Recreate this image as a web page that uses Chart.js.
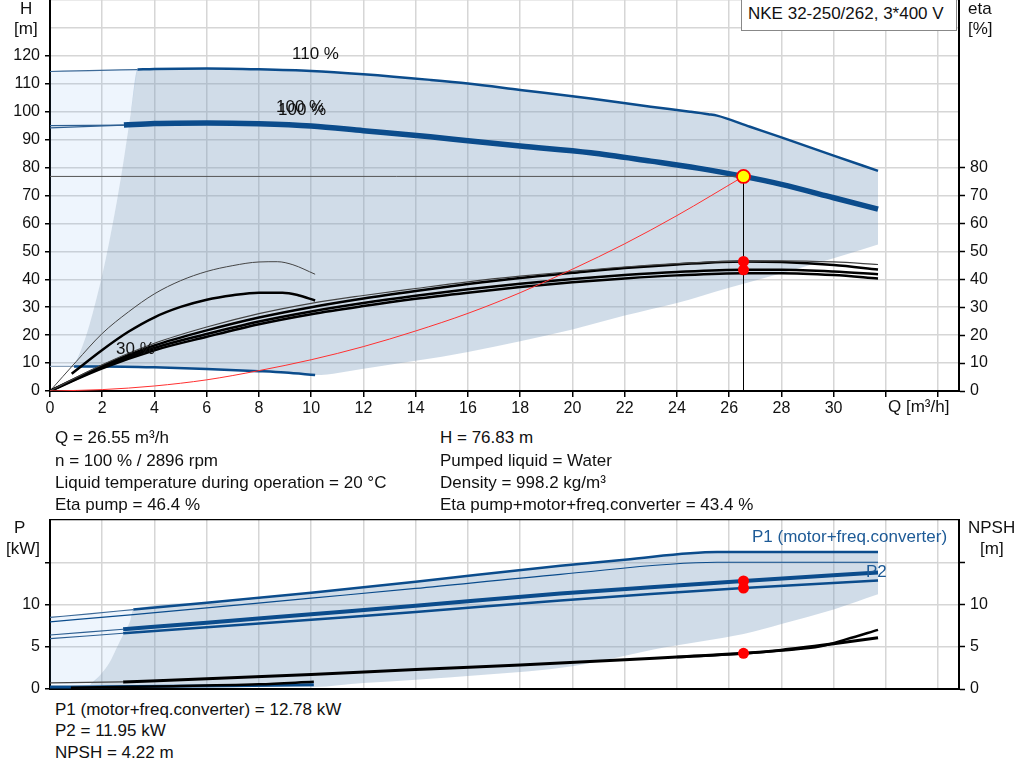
<!DOCTYPE html>
<html><head><meta charset="utf-8">
<script src="https://cdn.jsdelivr.net/npm/chart.js@4.4.1/dist/chart.umd.min.js"></script>
<style>
html,body{margin:0;padding:0;background:#fff;width:1024px;height:781px;overflow:hidden;font-family:'Liberation Sans',Arial,sans-serif;color:#111}
canvas{position:absolute;left:0}
.t{position:absolute;font-size:17px;line-height:20px;white-space:nowrap}
#box{position:absolute;left:741px;top:-1px;width:216px;height:32px;border:1px solid #888;box-sizing:border-box;background:#fff}
</style></head><body>
<canvas id="top" width="1024" height="420" style="top:0;width:1024px;height:420px"></canvas>
<canvas id="bot" width="1024" height="200" style="top:500px;width:1024px;height:200px"></canvas>
<div id="box"></div>
<div class="t" style="left:748px;top:4px">NKE 32-250/262, 3*400 V</div>
<div class="t" style="left:20px;top:-1px">H</div>
<div class="t" style="left:14px;top:19px">[m]</div>
<div class="t" style="left:968px;top:-1px">eta</div>
<div class="t" style="left:968px;top:19px">[%]</div>
<div class="t" style="left:888px;top:397px">Q [m³/h]</div>
<div class="t" style="left:292px;top:44px">110 %</div>
<div class="t" style="left:276px;top:97px">100 %</div>
<div class="t" style="left:278px;top:100px">100 %</div>
<div class="t" style="left:116px;top:339px">30 %</div>
<div class="t" style="left:55px;top:428px">Q = 26.55 m³/h</div>
<div class="t" style="left:55px;top:451px">n = 100 % / 2896 rpm</div>
<div class="t" style="left:55px;top:473px">Liquid temperature during operation = 20 °C</div>
<div class="t" style="left:55px;top:495px">Eta pump = 46.4 %</div>
<div class="t" style="left:440px;top:428px">H = 76.83 m</div>
<div class="t" style="left:440px;top:451px">Pumped liquid = Water</div>
<div class="t" style="left:440px;top:473px">Density = 998.2 kg/m³</div>
<div class="t" style="left:440px;top:495px">Eta pump+motor+freq.converter = 43.4 %</div>
<div class="t" style="left:14px;top:518px">P</div>
<div class="t" style="left:6px;top:539px">[kW]</div>
<div class="t" style="left:968px;top:518px">NPSH</div>
<div class="t" style="left:980px;top:539px">[m]</div>
<div class="t" style="left:752px;top:527px;color:#1d5a96">P1 (motor+freq.converter)</div>
<div class="t" style="left:866px;top:562px;color:#1d5a96">P2</div>
<div class="t" style="left:55px;top:700px">P1 (motor+freq.converter) = 12.78 kW</div>
<div class="t" style="left:55px;top:721px">P2 = 11.95 kW</div>
<div class="t" style="left:55px;top:743px">NPSH = 4.22 m</div>
<script>
// ---------- data: top chart (H [m] and eta [%] vs Q [m3/h]) ----------
const qMax = 34.8, qLabelMax = 30, qStep = 2;
const hMax = 140, hLabelMax = 120, etaLabelMax = 80, hStep = 10;
const dutyQ = 26.55, dutyH = 76.83;
const etaDuty = [[26.55,46.4],[26.55,43.4]];
const h110Main = [[3.35,115.1],[4,115.3],[6,115.5],[8,115.2],[10,114.6],[12,113.4],[14.56,111.4],[16,110.1],[18,107.8],[20.7,104.7],[23,101.8],[24.5,100.0],[25.2,99.1],[25.54,98.6],[26.8,94.6],[28,90.8],[30,84.3],[31.7,78.8]];
const h110Left = [[0,114.4],[1.5,114.7],[3.35,115.1]];
const h100Main = [[2.83,95.2],[4,95.8],[6,96],[8,95.7],[10,94.9],[12,93.2],[14.56,91],[16,89.6],[18,87.7],[20.7,85.3],[23,82.3],[24.8,79.8],[26.55,76.83],[28,74.0],[30,69.2],[31.7,65.1]];
const h100LeftA = [[0,95.0],[2.83,95.2]];
const h100LeftB = [[0,94.2],[2.83,95.2]];
const h30Main = [[0.92,8.8],[2,8.8],[4,8.5],[6,7.9],[8,7.1],[9,6.6],[10.15,5.7]];
const h30Left = [[0,8.8],[0.92,8.8]];
const minFlowEdge = [[0.92,8.8],[1.2,15],[1.5,23.4],[2,41.6],[2.3,55],[2.58,69],[2.81,82],[3.1,100],[3.35,115.1]];
const lowerEdge = [[10.15,5.7],[12,8],[14,10.8],[16,14],[18,17.8],[20,22],[22,27],[24,31.5],[26,37],[28,42.2],[30,47.5],[31.7,52.5]];
const systemCurve = [[0,0],[2,0.5],[4,1.8],[6,4.0],[8,7.3],[10,11.2],[12,15.9],[14,21.5],[16,27.8],[18,35.2],[20,43.6],[22,52.7],[24,62.8],[26.55,76.83]];
const eta1 = [[0,0],[2,9.4],[4,17.1],[6,22.9],[8,27.7],[10,31.4],[12,34.2],[14,36.7],[16,39.1],[18,41.1],[20,42.8],[22,44.4],[24,45.6],[26,46.4],[28,46.6],[30,46.2],[31.7,45.3]];
const eta2 = [[0,0],[2,9.0],[4,16.3],[6,21.7],[8,26.3],[10,30],[12,33.1],[14,35.8],[16,38.3],[18,40.5],[20,42.3],[22,44],[24,45.3],[26.55,46.4],[28,46.2],[30,45.1],[31.7,43.5]];
const eta3 = [[0,0],[2,8.5],[4,15.4],[6,20.4],[8,24.9],[10,28.5],[12,31.5],[14,34.1],[16,36.4],[18,38.4],[20,40.1],[22,41.5],[24,42.6],[26.55,43.4],[28,43.4],[30,42.8],[31.7,41.8]];
const eta4 = [[0,0],[2,8.1],[4,14.6],[6,19.4],[8,23.9],[10,27.5],[12,30.4],[14,33],[16,35.2],[18,37.2],[20,38.9],[22,40.3],[24,41.4],[26.55,42.2],[28,42.2],[30,41.5],[31.7,40.3]];
const etaThin = [[0,0],[1,10.5],[2,20.6],[3,28.3],[4,34.8],[5,39.5],[6,42.8],[7,44.9],[8,46.2],[8.7,46.3],[9.3,45.2],[10.15,41.8]];
const eta30 = [[0.83,6.2],[2,14.7],[3,21.2],[4,26.4],[5,30.1],[6,32.7],[7,34.3],[8,35.2],[8.9,35.2],[9.5,34.3],[10.15,32.4]];

// ---------- data: bottom chart (P [kW] and NPSH [m]) ----------
const pMax = 20, pLabelMax = 10, pStep = 5;
const bottomDuty = [[26.55,12.78],[26.55,11.95],[26.55,4.22]];
const pTopMain = [[3.19,9.4],[6,10.2],[10,11.4],[14,12.7],[19.54,14.58],[22,15.3],[25.54,16.2],[31.7,16.2]];
const pTopLeft = [[0,8.47],[1.5,8.9],[3.19,9.4]];
const pTopThin = [[0,7.95],[3.19,8.8],[10,10.75],[14,11.9],[19.54,13.57],[25.54,15.0],[31.7,15.0]];
const p1Main = [[2.8,7.07],[6,7.85],[10,8.85],[14,9.85],[19.54,11.29],[23,12.05],[26.55,12.78],[31.7,13.8]];
const p1Left = [[0,6.39],[2.8,7.07]];
const p2Main = [[2.8,6.6],[6,7.3],[10,8.2],[14,9.1],[19.54,10.48],[23,11.25],[26.55,11.95],[31.7,12.85]];
const p2Left = [[0,5.95],[2.8,6.6]];
const npshMain = [[2.8,0.84],[6,1.2],[10,1.72],[14,2.3],[18,2.85],[22,3.45],[24,3.8],[26.55,4.22],[28,4.6],[30,5.35],[31.7,6.07]];
const npshSteep = [[24,3.78],[26.55,4.2],[28,4.55],[29.5,5.05],[30.5,5.9],[31.7,7.0]];
const npshLeft = [[0,0.72],[2.8,0.84]];
const npsh30 = [[0.8,0.15],[4,0.3],[8,0.55],[10.1,0.85]];
const p30 = [[0,0.25],[0.8,0.25],[10.1,0.5]];
const pEdge = [[1.53,0.5],[1.92,1.65],[2.3,3.25],[2.55,4.86],[2.81,6.47],[3.07,8.07],[3.19,9.4]];
const pLowerEdge = [[1.53,0.5],[4,0.35],[8,0.27],[10.1,0.25],[12,0.7],[14,1.1],[16.5,1.65],[20,2.7],[23.5,4.9],[26.55,6.5],[28,7.7],[30,9.4],[31.7,11.2]];

// ---------- styling helpers ----------
const BLUE = '#0b4c8c', GREY_FILL = 'rgba(121,155,189,0.35)', LIGHT_FILL = 'rgba(85,155,235,0.10)';
const FONT = "'Liberation Sans', Arial, sans-serif";
const pts = a => a.map(([x,y]) => ({x,y}));
const line = (d, color, w, extra={}) => Object.assign({data: pts(d), borderColor: color, borderWidth: w, pointRadius: 0, fill: false, cubicInterpolationMode: 'monotone', showLine: true}, extra);
const area = (d, fillColor, target) => ({data: pts(d), borderWidth: 0, borderColor: 'rgba(0,0,0,0)', backgroundColor: fillColor, pointRadius: 0, cubicInterpolationMode: 'monotone', fill: target === undefined ? false : target});
const dots = (d, fill, border, r, bw, extra={}) => Object.assign({data: pts(d), showLine: false, pointRadius: r, pointBackgroundColor: fill, pointBorderColor: border, pointBorderWidth: bw}, extra);
const fixAxis = (w, h) => s => { if (w !== null) s.width = w; if (h !== null) s.height = h; s.paddingTop = 0; s.paddingBottom = 0; s.paddingLeft = 0; s.paddingRight = 0; };
const tickFont = {family: FONT, size: 16};
const GRID = '#d6d6d6';

Chart.defaults.animation = false;

// ---------- top chart ----------
const topSets = [
  dots([[dutyQ, dutyH]], '#ffff00', '#ff0000', 6.5, 1.8),
  dots(etaDuty, '#ff0000', '#ff0000', 5.5, 0, {yAxisID: 'y2'}),
  line([[0,dutyH],[dutyQ,dutyH]], '#555', 1, {tension: 0, cubicInterpolationMode: 'default'}),
  line([[dutyQ,0],[dutyQ,dutyH]], '#000', 1, {tension: 0, cubicInterpolationMode: 'default'}),
  line(systemCurve, '#ff3030', 1),
  line(eta1, '#444', 1.2, {yAxisID: 'y2'}),
  line(eta2, '#000', 2.5, {yAxisID: 'y2'}),
  line(eta3, '#000', 2.5, {yAxisID: 'y2'}),
  line(eta4, '#000', 2.5, {yAxisID: 'y2'}),
  line(etaThin, '#444', 1, {yAxisID: 'y2'}),
  line(eta30, '#000', 2.5, {yAxisID: 'y2'}),
  line(h110Main, BLUE, 2.5),
  line(h110Left, '#3d6a98', 1.2),
  line(h100Main, BLUE, 5.5),
  line(h100LeftA, '#2d5f92', 1.2),
  line(h100LeftB, '#2d5f92', 1.2),
  line(h30Main, BLUE, 2.5),
  line(h30Left, '#8aa0b8', 1.2),
];
const gU = topSets.length;
topSets.push(area(minFlowEdge.concat(h110Main.slice(1)), GREY_FILL, gU + 1));
topSets.push(area(h30Main.concat(lowerEdge.slice(1)), GREY_FILL));
const lU = topSets.length;
topSets.push(area(h110Left, LIGHT_FILL, lU + 1));
topSets.push(area([[0,8.8]].concat(minFlowEdge), LIGHT_FILL));

new Chart(document.getElementById('top'), {
  type: 'line',
  data: {datasets: topSets},
  options: {
    responsive: false, animation: false, events: [],
    layout: {padding: 0, autoPadding: false},
    plugins: {legend: {display: false}, tooltip: {enabled: false}, filler: {drawTime: 'beforeDatasetsDraw'}},
    scales: {
      x: {type: 'linear', min: 0, max: qMax,
        ticks: {stepSize: qStep, includeBounds: false, autoSkip: false, maxRotation: 0, font: tickFont, color: '#111', padding: 2,
          callback: v => v <= qLabelMax ? v : ''},
        grid: {color: GRID, lineWidth: 1.5, tickLength: 6, tickColor: '#000', tickWidth: 1.5},
        border: {color: '#000', width: 2},
        afterFit: fixAxis(null, 29)},
      y: {type: 'linear', position: 'left', min: 0, max: hMax,
        ticks: {stepSize: hStep, autoSkip: false, font: tickFont, color: '#111', padding: 5,
          callback: v => v <= hLabelMax ? v : ''},
        grid: {color: GRID, lineWidth: 1.5, tickLength: 5, tickWidth: 1.5,
          tickColor: c => (c.tick && c.tick.value > hLabelMax) ? 'rgba(0,0,0,0)' : '#000'},
        border: {color: '#000', width: 2},
        afterFit: fixAxis(50, null)},
      y2: {type: 'linear', position: 'right', min: 0, max: hMax,
        ticks: {stepSize: hStep, autoSkip: false, font: tickFont, color: '#111', padding: 5,
          callback: v => v <= etaLabelMax ? v : ''},
        grid: {drawOnChartArea: false, tickLength: 6, tickWidth: 1.5,
          tickColor: c => (c.tick && c.tick.value > etaLabelMax) ? 'rgba(0,0,0,0)' : '#000'},
        border: {color: '#000', width: 2},
        afterFit: fixAxis(65, null)}
    }
  }
});

// ---------- bottom chart ----------
const botSets = [
  dots(bottomDuty, '#ff0000', '#ff0000', 5.5, 0),
  line(npshMain, '#000', 3),
  line(npshSteep, '#000', 2.5),
  line(npshLeft, '#444', 1.2),
  line(npsh30, '#000', 2.5),
  line(p30, BLUE, 3),
  line(p1Main, BLUE, 4),
  line(p1Left, '#2d5f92', 1.2),
  line(p2Main, BLUE, 2.5),
  line(p2Left, '#2d5f92', 1.2),
  line(pTopMain, BLUE, 2.5),
  line(pTopLeft, '#3d6a98', 1.2),
  line(pTopThin, BLUE, 1.2),
];
const bU = botSets.length;
botSets.push(area(pEdge.concat(pTopMain.slice(1)), GREY_FILL, bU + 1));
botSets.push(area(pLowerEdge, GREY_FILL));
const blU = botSets.length;
botSets.push(area(pTopLeft, LIGHT_FILL, blU + 1));
botSets.push(area([[0,0.6]].concat(pEdge), LIGHT_FILL));

new Chart(document.getElementById('bot'), {
  type: 'line',
  data: {datasets: botSets},
  options: {
    responsive: false, animation: false, events: [],
    layout: {padding: {top: 20}, autoPadding: false},
    plugins: {legend: {display: false}, tooltip: {enabled: false}, filler: {drawTime: 'beforeDatasetsDraw'}},
    scales: {
      x: {type: 'linear', min: 0, max: qMax,
        ticks: {stepSize: qStep, includeBounds: false, display: false},
        grid: {color: GRID, lineWidth: 1.5, drawTicks: false},
        border: {color: '#000', width: 2},
        afterFit: fixAxis(null, 11)},
      y: {type: 'linear', position: 'left', min: 0, max: pMax,
        ticks: {stepSize: pStep, autoSkip: false, font: tickFont, color: '#111', padding: 5,
          callback: v => v <= pLabelMax ? v : ''},
        grid: {lineWidth: c => (c.tick && c.tick.value >= pMax) ? 1.2 : 1.5,
          color: c => (c.tick && c.tick.value >= pMax) ? '#000' : GRID,
          tickLength: 5, tickWidth: 1.5,
          tickColor: c => (c.tick && c.tick.value >= pMax) ? 'rgba(0,0,0,0)' : '#000'},
        border: {color: '#000', width: 2},
        afterFit: fixAxis(50, null)},
      y2: {type: 'linear', position: 'right', min: 0, max: pMax,
        ticks: {stepSize: pStep, autoSkip: false, font: tickFont, color: '#111', padding: 5,
          callback: v => v <= pLabelMax ? v : ''},
        grid: {drawOnChartArea: false, tickLength: 6, tickWidth: 1.5,
          tickColor: c => (c.tick && c.tick.value >= pMax) ? 'rgba(0,0,0,0)' : '#000'},
        border: {color: '#000', width: 2},
        afterFit: fixAxis(65, null)}
    }
  }
});
</script>
</body></html>
